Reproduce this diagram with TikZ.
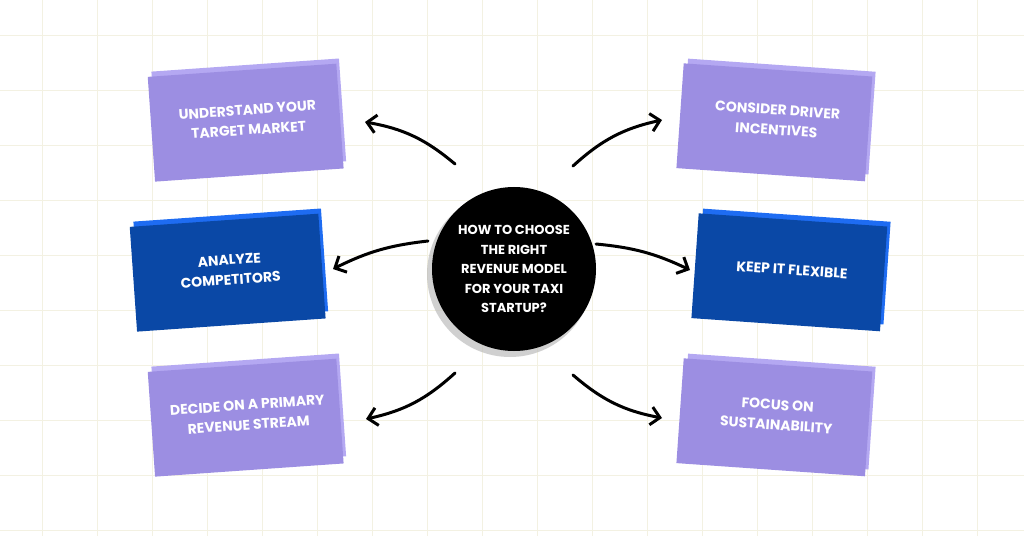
\documentclass[tikz,border=0pt]{standalone}
\usepackage{fontspec}
\setmainfont{Poppins}[BoldFont={* Bold}]
\usetikzlibrary{arrows.meta}
\definecolor{lpf}{HTML}{9C8EE2}
\definecolor{lpb}{HTML}{B4A8F2}
\definecolor{dbf}{HTML}{0A48A6}
\definecolor{dbb}{HTML}{1E6CF2}
\definecolor{gridc}{HTML}{F3F1E2}
\tikzset{
  x=1pt,y=1pt,
  txt/.style={text=white,font=\bfseries\fontsize{14}{20}\selectfont,align=center},
  arr/.style={line width=3pt,-{Straight Barb[length=9pt,width=18pt,line width=3pt]},line cap=round},
}
\newcommand{\card}[5]{% x, y, angle, front, back
  \begin{scope}[shift={(#1,#2)},rotate=#3]
    \fill[#5] (-93,-48) rectangle (95,55);
    \fill[#4] (-97,-55) rectangle (92,50);
  \end{scope}
}
\begin{document}
\begin{tikzpicture}
\useasboundingbox (0,0) rectangle (1024,536);
\fill[white] (0,0) rectangle (1024,536);
\foreach \i in {0,...,19} \draw[gridc,line width=0.8pt] (42+55*\i,0) -- (42+55*\i,536);
\foreach \j in {0,...,9} \draw[gridc,line width=0.8pt] (0,6+55*\j) -- (1024,6+55*\j);

\card{248}{416}{4}{lpf}{lpb}
\node[txt,rotate=4] (a) at (248,416) {UNDERSTAND YOUR\\TARGET MARKET};
\card{230}{266}{4}{dbf}{dbb}
\node[txt,rotate=4] (b) at (230,266) {ANALYZE\\COMPETITORS};
\card{248}{121}{4}{lpf}{lpb}
\node[txt,rotate=4] (c) at (248,121) {DECIDE ON A PRIMARY\\REVENUE STREAM};
\card{777}{416}{-4}{lpf}{lpb}
\node[txt,rotate=-4] (d) at (777,416) {CONSIDER DRIVER\\INCENTIVES};
\card{792}{266}{-4}{dbf}{dbb}
\node[txt,rotate=-4] (e) at (792,266) {KEEP IT FLEXIBLE};
\card{777}{121}{-4}{lpf}{lpb}
\node[txt,rotate=-4] (f) at (777,121) {FOCUS ON\\SUSTAINABILITY};

\fill[gray!60,opacity=0.6] (510,262) circle (83);
\node[circle,fill=black,minimum size=164pt,inner sep=0pt] (hub) at (514,267) {};
\node[txt,font=\bfseries\fontsize{13}{19.5}\selectfont] (ht) at (514,267) {HOW TO CHOOSE\\THE RIGHT\\REVENUE MODEL\\FOR YOUR TAXI\\STARTUP?};

\coordinate (s1) at (455,372); \coordinate (t1) at (365,414);
\coordinate (s2) at (428,295); \coordinate (t2) at (333,267);
\coordinate (s3) at (455,163); \coordinate (t3) at (366,117);
\coordinate (s4) at (573,370); \coordinate (t4) at (662,416);
\coordinate (s5) at (596,292); \coordinate (t5) at (690,266);
\coordinate (s6) at (573,161); \coordinate (t6) at (662,118);
\draw[arr] (s1) to[bend right=15] (t1);
\draw[arr] (s2) to[bend right=10] (t2);
\draw[arr] (s3) to[bend left=15] (t3);
\draw[arr] (s4) to[bend left=15] (t4);
\draw[arr] (s5) to[bend left=10] (t5);
\draw[arr] (s6) to[bend right=15] (t6);
\end{tikzpicture}
\end{document}
